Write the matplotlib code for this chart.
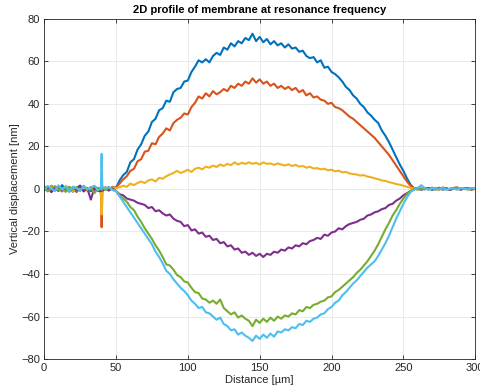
import numpy as np
import matplotlib
matplotlib.use("Agg")
import matplotlib.pyplot as plt

# sample positions [um]: flat part, spike around 40 um, membrane part
x_left = np.arange(0, 40, 2.5)
x_spike = [39.5, 40, 40.5]
x_rest = np.arange(42.5, 300.1, 2.5)
distance = np.concatenate([x_left, x_spike, x_rest])

# vertical displacement [nm] for each of the six traces
blue = [1.2, -0.8, 1.5, 0.3, -1.0, 1.8, -0.5, 0.9, -1.3, 0.6, 1.4, -0.9, 0.2, -1.1, 0.8, 0.4,
        0.5, -1.0, 0.3,
        0.5, -0.8, 1.0, 0.5, 4.0, 6.5, 8.0, 12.5, 14.0, 18.5,
        21.0, 25.0, 27.0, 31.5, 33.0, 37.0, 38.0, 41.5, 41.0, 45.5,
        47.0, 47.5, 50.5, 51.0, 55.0, 57.5, 60.5, 59.5, 61.0, 59.5,
        62.5, 64.0, 63.0, 66.5, 65.5, 68.5, 67.0, 69.5, 68.5, 71.0,
        70.0, 73.0, 69.5, 71.5, 69.0, 70.5, 68.0, 69.5, 67.5, 68.5,
        66.5, 68.0, 66.0, 66.5, 64.5, 65.0, 62.5, 61.5, 62.0, 59.5,
        60.5, 57.0, 57.5, 55.0, 54.0, 52.5, 50.5, 48.0, 46.5, 44.0,
        42.5, 40.0, 38.5, 36.0, 34.5, 32.5, 31.0, 27.5, 25.0, 22.0,
        18.5, 15.0, 11.5, 8.5, 5.0, 2.0, 0.3, -0.3, 0.4, -0.2,
        0.3, -0.4, 0.2, 0.5, -0.3, 0.2, -0.5, 0.3, 0.1, -0.2,
        0.4, -0.3, 0.2, 0.1]

orange = [-0.5, 1.1, -1.4, 0.8, 0.2, -1.2, 1.0, -0.3, 0.7, -1.5, 0.4, 1.2, -0.6, 0.9, -1.0, 0.3,
          -2.0, -18.0, -1.5,
          0.8, -0.4, 0.6, 0.8, 2.5, 4.5, 6.0, 8.5, 9.5, 13.0,
          14.0, 17.5, 18.0, 21.5, 21.0, 24.5, 26.0, 28.5, 27.5, 31.0,
          32.5, 33.5, 35.5, 35.0, 38.5, 40.5, 43.5, 42.5, 45.0, 43.5,
          46.0, 44.5, 45.5, 47.0, 46.0, 48.5, 47.5, 49.5, 48.5, 50.5,
          49.5, 52.0, 50.0, 51.5, 49.5, 50.5, 48.5, 49.5, 47.5, 48.5,
          47.0, 48.0, 46.5, 47.5, 45.5, 46.5, 44.0, 45.0, 43.0, 43.5,
          42.0, 41.5, 40.0, 40.5, 38.5, 38.0, 37.0, 35.5, 34.0, 33.0,
          31.5, 30.0, 28.5, 27.0, 25.5, 24.0, 22.0, 20.0, 18.0, 16.0,
          13.5, 11.0, 8.5, 6.0, 3.5, 1.5, 0.2, 0.4, -0.3, 0.5,
          -0.2, 0.6, 0.1, -0.4, 0.7, 0.2, -0.3, 0.5, 0.8, -0.2,
          0.3, 0.1, -0.4, 0.2]

yellow = [0.6, -1.2, 1.3, -0.4, 0.9, -0.8, 1.5, 0.1, -1.1, 0.7, -0.2, 1.0, -0.9, 0.5, 1.2, -0.6,
          -1.5, -12.0, -1.0,
          0.5, -0.6, 0.8, 0.3, 0.8, 1.5, 1.0, 2.5, 1.8, 2.8,
          3.5, 2.8, 4.0, 4.5, 3.5, 5.2, 4.8, 6.0, 6.8, 7.5,
          8.5, 7.5, 8.2, 9.0, 8.0, 9.5, 10.0, 9.2, 10.5, 10.0,
          11.0, 10.3, 11.5, 10.8, 11.8, 11.2, 12.5, 11.5, 12.3, 11.8,
          12.5, 11.8, 12.3, 11.5, 12.5, 11.8, 12.0, 11.3, 12.0, 11.5,
          11.0, 11.6, 10.8, 11.3, 10.5, 10.8, 10.0, 10.4, 9.6, 9.8,
          9.2, 9.5, 8.8, 9.0, 8.3, 8.6, 7.8, 8.0, 7.3, 7.0,
          6.8, 6.3, 6.5, 5.8, 5.5, 5.0, 4.6, 4.0, 3.8, 3.2,
          2.8, 2.3, 2.0, 1.5, 1.0, 0.5, 0.2, -0.3, 0.4, 0.2,
          -0.3, 0.2, 0.5, -0.2, 0.1, 0.3, -0.4, 0.2, 0.4, -0.1,
          0.2, -0.3, 0.3, 0.1]

purple = [-0.8, 0.9, -1.5, 0.4, 1.1, -0.7, 0.2, -1.3, 0.8, -0.5, 1.6, -1.2, 0.3, -5.0, 0.5, -0.9,
          -1.0, 0.5, -0.8,
          0.4, -0.6, 0.3, -1.0, -2.5, -3.0, -4.5, -5.0, -5.5, -6.5,
          -7.0, -7.5, -9.0, -8.5, -10.5, -10.0, -11.5, -12.5, -12.0, -14.0,
          -15.0, -15.5, -17.5, -17.0, -19.5, -19.0, -21.0, -20.5, -22.5, -22.0,
          -24.0, -23.5, -25.5, -25.0, -27.0, -26.5, -28.5, -28.0, -30.0, -29.5,
          -31.0, -30.0, -31.5, -30.5, -32.0, -30.5, -31.0, -29.5, -30.0, -28.5,
          -29.0, -27.5, -28.0, -26.5, -27.0, -25.5, -26.0, -24.5, -24.0, -23.0,
          -23.5, -21.5, -22.0, -20.5, -20.0, -18.5, -19.0, -17.5, -16.5, -16.0,
          -15.5, -14.5, -14.0, -12.5, -12.0, -11.0, -10.5, -9.5, -9.0, -7.5,
          -7.0, -5.5, -4.5, -3.0, -2.0, -1.0, -0.2, 0.3, -0.4, 0.2,
          0.4, -0.3, 0.1, 0.5, -0.2, 0.3, -0.4, 0.2, 0.1, -0.3,
          0.2, 0.4, -0.2, 0.1]

green = [0.9, -1.1, 0.4, 1.3, -0.6, 0.2, -1.4, 1.0, -0.3, 0.8, -1.0, 1.5, -0.5, 0.6, -2.0, 0.3,
         0.5, -0.5, 1.0,
         -0.5, 0.6, -0.3, -1.0, -3.0, -4.5, -6.0, -8.5, -10.0, -13.0,
         -15.5, -18.5, -21.0, -23.5, -26.5, -29.0, -32.0, -35.5, -36.0, -38.0,
         -40.5, -41.5, -43.5, -44.0, -46.5, -48.5, -49.0, -51.5, -52.0, -53.5,
         -52.5, -54.0, -52.0, -56.0, -57.5, -59.0, -58.0, -60.5, -59.5, -61.0,
         -62.0, -64.5, -61.5, -63.0, -61.0, -62.5, -60.5, -62.0, -60.0, -61.0,
         -59.5, -60.0, -58.5, -59.0, -57.0, -57.5, -55.5, -56.0, -54.5, -54.0,
         -53.0, -52.5, -51.0, -50.5, -48.5, -47.5, -46.0, -44.5, -43.0, -41.5,
         -39.5, -38.0, -36.0, -34.0, -31.5, -29.0, -26.0, -22.5, -19.0, -16.0,
         -12.5, -10.0, -7.0, -4.5, -2.5, -1.0, -0.2, 0.3, -0.3, 0.5,
         -0.2, 0.3, -0.4, 0.2, 0.5, -0.3, 0.1, 0.4, -0.2, 0.3,
         -0.1, 0.2, 0.4, -0.2]

light_blue = [-0.5, 1.4, 0.2, -1.0, 1.7, -0.3, 0.9, -1.2, 1.1, 0.4, -0.8, 1.3, -0.2, 0.7, 1.5, -0.6,
              0.5, 16.5, 0.8,
              0.3, 1.0, -0.5, -1.0, -3.5, -6.0, -8.5, -11.0, -13.5, -16.0,
              -18.5, -21.0, -23.5, -26.0, -29.5, -32.0, -35.0, -38.5, -40.0, -42.5,
              -44.5, -46.5, -48.0, -50.0, -52.5, -54.0, -56.0, -55.5, -58.0, -58.5,
              -60.0, -61.5, -60.5, -63.5, -64.5, -66.5, -66.0, -68.5, -67.5, -69.0,
              -70.0, -71.5, -69.0, -70.5, -68.5, -70.0, -68.0, -69.5, -67.0, -67.5,
              -66.0, -66.5, -65.0, -65.5, -63.5, -64.0, -62.0, -62.5, -61.0, -60.5,
              -59.0, -58.5, -56.5, -55.5, -53.5, -52.5, -50.0, -48.5, -46.5, -44.5,
              -43.0, -41.0, -39.0, -37.0, -35.5, -34.0, -31.5, -28.5, -25.5, -22.0,
              -18.0, -14.0, -10.5, -7.0, -4.0, -1.5, -0.3, 0.4, 1.8, 0.2,
              -0.3, 0.2, 0.5, -0.2, 0.3, -0.4, 0.2, 0.1, -0.3, 0.4,
              0.2, -0.2, 0.3, 0.1]

x_ticks = [0, 50, 100, 150, 200, 250, 300]
y_ticks = [-80, -60, -40, -20, 0, 20, 40, 60, 80]

series = [blue, orange, yellow, purple, green, light_blue]
colors = ["#0072BD", "#D95319", "#EDB120", "#7E2F8E", "#77AC30", "#4DBEEE"]

plt.rcParams['font.family'] = ['Liberation Sans', 'DejaVu Sans']

fig = plt.figure(figsize=(4.8, 3.92), dpi=100)
ax = fig.add_axes([0.092, 0.084, 0.898, 0.868])

for values, c in zip(series, colors):
    ax.plot(distance, values, color=c, linewidth=1.5)

ax.set_xlim(0, 300)
ax.set_ylim(-80, 80)
ax.set_xticks(x_ticks)
ax.set_yticks(y_ticks)
ax.grid(True, color='#e6e6e6', linewidth=0.6)
ax.set_axisbelow(True)
ax.tick_params(direction='in', top=True, right=True, length=3, width=0.6,
               labelsize=8, colors='#262626', pad=3)
for s in ax.spines.values():
    s.set_color('#262626')
    s.set_linewidth(0.6)

ax.set_xlabel('Distance [µm]', fontsize=8, color='#262626', labelpad=1)
ax.set_ylabel('Vertical displacement [nm]', fontsize=8, color='#262626', labelpad=1)
ax.set_title('2D profile of membrane at resonance frequency', fontsize=8,
             fontweight='bold', pad=4)

fig.savefig('out.png', dpi=100)
